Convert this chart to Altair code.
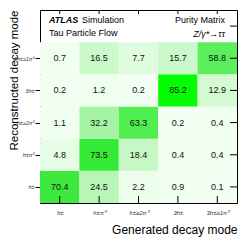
import json
import altair as alt
import pandas as pd

# Categories (generated = columns, reconstructed = rows bottom->top)
modes = ["h\u00b1", "h\u00b1\u03c0\u2070", "h\u00b1\u22652\u03c0\u2070", "3h\u00b1", "3h\u00b1\u22651\u03c0\u2070"]

# Purity matrix values: one list per reconstructed mode (bottom to top), entries by generated mode
reco_h = [70.4, 24.5, 2.2, 0.9, 0.1]
reco_h_pi0 = [4.8, 73.5, 18.4, 0.4, 0.4]
reco_h_2pi0 = [1.1, 32.2, 63.3, 0.2, 0.4]
reco_3h = [0.2, 1.2, 0.2, 85.2, 12.9]
reco_3h_pi0 = [0.7, 16.5, 7.7, 15.7, 58.8]
rows_vals = [reco_h, reco_h_pi0, reco_h_2pi0, reco_3h, reco_3h_pi0]

FONT = "Liberation Sans"
W, H = 197, 193

recs = []
for j, row in enumerate(rows_vals):
    for i, v in enumerate(row):
        recs.append({"x": i, "x2": i + 1, "xc": i + 0.5,
                     "y": j, "y2": j + 1, "yc": j + 0.5,
                     "v": v, "label": f"{v:.1f}"})
df = pd.DataFrame(recs)

xs = alt.Scale(domain=[0, 5], nice=False, zero=False)
ys = alt.Scale(domain=[0, 6], nice=False, zero=False)
labels_js = json.dumps(modes, ensure_ascii=False)
lab_expr = f"{labels_js}[floor(datum.value)]"

color_scale = alt.Scale(domain=[0, 16, 32, 60, 72, 86],
                        range=["#f2fff2", "#cbf9cb", "#a5f4a5", "#58f058", "#3ae83a", "#00ff00"],
                        interpolate="rgb")

x_axis = alt.Axis(values=[0.5, 1.5, 2.5, 3.5, 4.5], labelExpr=lab_expr, ticks=False,
                  domain=False, grid=False, labelFont=FONT, labelFontSize=6,
                  labelFontStyle="italic", labelColor="#333333", labelPadding=6,
                  title="Generated decay mode", titleFont=FONT, titleFontSize=12,
                  titleFontWeight="normal", titleColor="#000000", titleX=W, titleY=30,
                  titleAlign="right", titleBaseline="alphabetic")
y_axis = alt.Axis(values=[0.5, 1.5, 2.5, 3.5, 4.5], labelExpr=lab_expr, ticks=True,
                  tickSize=5, tickColor="#000000", domain=False, grid=False,
                  labelFont=FONT, labelFontSize=5.5, labelFontStyle="italic",
                  labelColor="#333333", labelPadding=1,
                  title="Reconstructed decay mode", titleFont=FONT, titleFontSize=11.5,
                  titleFontWeight="normal", titleColor="#000000", titleX=-23, titleY=0,
                  titleAngle=270, titleAlign="right", titleBaseline="alphabetic")

cells = alt.Chart(df).mark_rect(stroke=None).encode(
    x=alt.X("x:Q", scale=xs, axis=x_axis),
    x2="x2:Q",
    y=alt.Y("y:Q", scale=ys, axis=y_axis),
    y2="y2:Q",
    color=alt.Color("v:Q", scale=color_scale, legend=None),
)

texts = alt.Chart(df).mark_text(font=FONT, fontSize=9, color="#111111",
                                baseline="middle", align="center").encode(
    x=alt.X("xc:Q", scale=xs), y=alt.Y("yc:Q", scale=ys), text="label:N")

tick_df = pd.DataFrame({"c": [0.5, 1.5, 2.5, 3.5, 4.5]})
rtick_df = pd.DataFrame({"c": [0.5, 1.5, 2.5, 3.5, 4.5, 5.5]})
bottom_ticks = alt.Chart(tick_df).mark_rule(color="#000000", strokeWidth=1).encode(
    x=alt.X("c:Q", scale=xs), y=alt.value(H), y2=alt.value(H - 7))
top_ticks = alt.Chart(tick_df).mark_rule(color="#000000", strokeWidth=1).encode(
    x=alt.X("c:Q", scale=xs), y=alt.value(0), y2=alt.value(4))
right_ticks = alt.Chart(rtick_df).mark_rule(color="#000000", strokeWidth=1).encode(
    y=alt.Y("c:Q", scale=ys), x=alt.value(W), x2=alt.value(W - 7))

one = pd.DataFrame({"t": [""]})
def note(txt, x, y, align="left", weight="normal", style="normal", size=9):
    return alt.Chart(one).mark_text(text=txt, font=FONT, fontSize=size, fontWeight=weight,
                                    fontStyle=style, align=align, baseline="alphabetic",
                                    color="#000000").encode(x=alt.value(x), y=alt.value(y))

notes = [
    note("ATLAS", 9, 13, weight="bold", style="italic"),
    note("Simulation", 42, 13),
    note("Tau Particle Flow", 9, 26),
    note("Purity Matrix", 185, 13, align="right"),
    note("Z/\u03b3*\u2192\u03c4\u03c4", 185, 27, align="right", style="italic"),
]

chart = alt.layer(cells, texts, bottom_ticks, top_ticks, right_ticks, *notes).properties(
    width=W, height=H,
    autosize=alt.AutoSizeParams(type="none"),
    padding={"left": 32, "top": 2, "right": 4, "bottom": 38},
    background="white",
).configure_view(stroke="#000000", strokeWidth=1)

chart.save("out.html", embed_options={"renderer": "svg", "actions": False})
